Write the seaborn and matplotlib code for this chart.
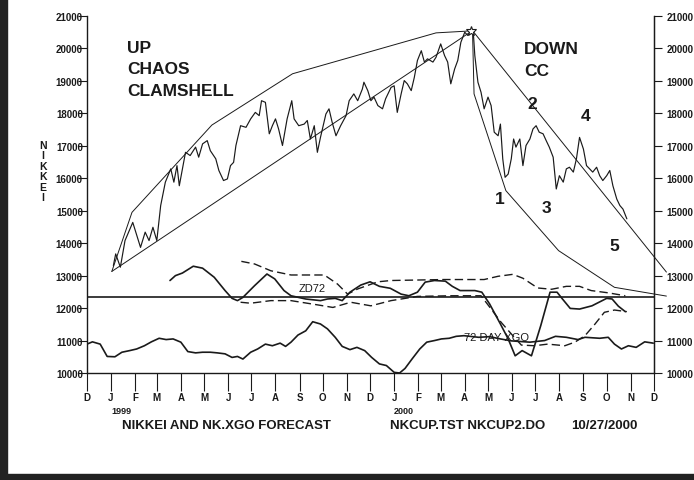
import matplotlib
matplotlib.use("Agg")
import matplotlib.pyplot as plt
import matplotlib.patches as mpatches
import pandas as pd
import seaborn as sns

sns.set_style("ticks")
plt.rcParams["font.family"] = ["Liberation Sans", "DejaVu Sans"]

INK = "#1a1a1a"
BASE = pd.Timestamp("1998-12-01")   # all day offsets below count from here

# Nikkei close (day offset, value)
price_days = [34, 37, 43, 49, 59, 65, 69, 75, 80, 85, 90, 95, 101, 108, 112, 116, 119, 127, 133, 140,
              144, 149, 155, 159, 166, 170, 176, 181, 185, 189, 192, 198, 205, 211, 217, 222, 225, 230, 235, 239,
              243, 247, 252, 258, 264, 267, 273, 280, 284, 288, 293, 297, 301, 308, 312, 316, 321, 327, 334, 338,
              344, 349, 355, 357, 362, 366, 370, 375, 381, 385, 392, 396, 400, 405, 409, 413, 418, 422, 426, 431,
              435, 439, 446, 450, 456, 461, 465, 469, 474, 478, 482, 487, 491, 495, 498, 500, 504, 508, 512, 517,
              521, 525, 530, 533, 536, 539, 543, 547, 550, 553, 558, 562, 566, 571, 575, 579, 583, 588, 592, 596,
              601, 605, 609, 614, 618, 622, 627, 631, 635, 640, 644, 648, 652, 657, 661, 665, 670, 674, 678, 683,
              687, 691, 696]
price_vals = [13310, 13670, 13260, 14080, 14640, 14180, 13870, 14340, 14080, 14490,
              14080, 15160, 15880, 16290, 15880, 16390, 15770, 16800, 16700, 16960,
              16650, 17060, 17160, 16850, 16600, 16240, 15930, 15980, 16390, 16490,
              17010, 17620, 17570, 17830, 18030, 17930, 18390, 18340, 17370, 17620,
              17830, 17520, 17010, 17830, 18390, 17830, 17620, 17670, 17780, 17210,
              17620, 16800, 17260, 17980, 18140, 17730, 17310, 17620, 17930, 18390,
              18600, 18390, 18750, 18960, 18700, 18390, 18500, 18240, 18140, 18450,
              18800, 18850, 18030, 18600, 19010, 18910, 18700, 19110, 19630, 19930,
              19580, 19680, 19580, 19730, 20140, 19780, 19580, 18910, 19370, 19630,
              20190, 20500, 20400, 20550, 20500, 19780, 18960, 18650, 18140, 18500,
              18240, 17420, 17310, 17670, 16600, 16030, 16130, 16600, 17210, 16960,
              17210, 16390, 17010, 17210, 17520, 17620, 17420, 17370, 17160, 16960,
              16650, 15670, 16080, 15880, 16290, 16340, 16190, 16600, 17260, 16900,
              16390, 16290, 16190, 16340, 16080, 15930, 16080, 16240, 15770, 15360,
              15160, 15050, 14750]

# clamshell envelopes
up_top_days = [32, 58, 161, 265, 450, 487, 497]
up_top_vals = [13130, 14950, 17640, 19220, 20480, 20530, 20550]
up_bot_days = [32, 497]
up_bot_vals = [13130, 20550]
down_top_days = [497, 747]
down_top_vals = [20550, 13110]
down_bot_days = [497, 499, 540, 608, 680, 747]
down_bot_vals = [20550, 18600, 15620, 13770, 12640, 12370]

# ZD72 oscillator and its bands
zd_days = [107, 114, 123, 137, 149, 164, 178, 187, 194, 201, 216, 232, 242, 254, 263, 282, 301, 310, 320, 329,
           339, 353, 365, 377, 391, 405, 415, 426, 436, 448, 462, 471, 481, 500, 509, 519, 533, 543, 552, 561,
           573, 585, 597, 606, 613, 623, 635, 651, 670, 677, 685, 694]
zd_vals = [12850, 13000, 13080, 13290, 13230, 12950, 12540, 12300, 12230, 12330,
           12690, 13050, 12900, 12540, 12380, 12280, 12230, 12280, 12300, 12230,
           12490, 12710, 12810, 12670, 12610, 12430, 12380, 12490, 12800, 12850,
           12830, 12670, 12540, 12540, 12490, 12130, 11510, 11050, 10530, 10690,
           10530, 11460, 12490, 12490, 12280, 11990, 11970, 12070, 12300, 12280,
           12060, 11890]
band_hi_days = [199, 216, 237, 263, 306, 323, 336, 349, 375, 392, 461, 512, 530, 549, 562, 581, 599, 618,
                635, 650, 672, 694]
band_hi_vals = [13440, 13360, 13150, 13020, 13020, 12740, 12430, 12590, 12810, 12850, 12880, 12880, 12980,
                13040, 12920, 12620, 12580, 12670, 12670, 12540, 12470, 12380]
band_lo_days = [198, 211, 237, 263, 297, 317, 340, 366, 392, 426, 469, 508, 516, 534, 549, 560, 577, 594,
                616, 629, 642, 655, 667, 680, 696]
band_lo_vals = [12180, 12150, 12230, 12230, 12100, 12020, 12180, 12070, 12230, 12360, 12380, 12380, 12130,
                11560, 11150, 10860, 10840, 10890, 10840, 10950, 11150, 11510, 11870, 11940, 11890]
zero_level = 12340

# 72 day XGO
xgo_days = [0, 7, 17, 26, 36, 45, 55, 64, 74, 83, 93, 102, 111, 121, 130, 140, 149, 159, 168, 178,
            187, 194, 201, 211, 220, 230, 239, 249, 256, 263, 272, 282, 291, 301, 310, 320, 329, 339, 348, 358,
            367, 377, 386, 396, 403, 410, 419, 429, 438, 448, 457, 467, 476, 486, 505, 519, 533, 547, 571, 590,
            604, 618, 633, 642, 661, 672, 680, 689, 698, 708, 719, 730]
xgo_vals = [10890, 10960, 10890, 10510, 10500, 10640, 10690, 10740, 10840, 10960,
            11070, 11030, 11050, 10950, 10660, 10620, 10640, 10640, 10620, 10590,
            10480, 10510, 10430, 10640, 10740, 10890, 10840, 10920, 10820, 10950,
            11170, 11300, 11580, 11510, 11360, 11100, 10820, 10720, 10790, 10690,
            10480, 10280, 10230, 10020, 10000, 10140, 10430, 10740, 10950, 11000,
            11050, 11070, 11130, 11150, 11100, 11120, 11050, 10990, 10950, 11000,
            11130, 11100, 11030, 11100, 11070, 11100, 10890, 10740, 10840, 10790,
            10960, 10920]

month_labels = ["D", "J", "F", "M", "A", "M", "J", "J", "A", "S", "O", "N",
                "D", "J", "F", "M", "A", "M", "J", "J", "A", "S", "O", "N", "D"]
year_labels = ["1999", "2000"]
y_ticks = list(range(10000, 21001, 1000))


def to_dates(days):
    return BASE + pd.to_timedelta(days, unit="D")


W, H = 694, 481


def px(x, y):
    return x / W, 1 - y / H


fig = plt.figure(figsize=(W / 100, H / 100), dpi=100)
ax = fig.add_axes([87 / W, 1 - 374 / H, 567 / W, 357 / H])


def draw(days, vals, lw, ls="-", clip=True):
    sns.lineplot(x=to_dates(days), y=vals, ax=ax, color=INK, linewidth=lw,
                 linestyle=ls, errorbar=None, sort=False)
    ax.lines[-1].set_clip_on(clip)


draw(up_top_days, up_top_vals, 0.7)
draw(up_bot_days, up_bot_vals, 0.7)
draw(down_top_days, down_top_vals, 0.7, clip=False)
draw(down_bot_days, down_bot_vals, 0.7, clip=False)
draw(price_days, price_vals, 0.85)
draw([0, 731], [zero_level, zero_level], 1.2)
draw(zd_days, zd_vals, 1.2)
draw(band_hi_days, band_hi_vals, 1.0, ls=(0, (6, 3)))
draw(band_lo_days, band_lo_vals, 1.0, ls=(0, (6, 3)))
draw(xgo_days, xgo_vals, 1.2)

peak = price_vals.index(max(price_vals))
ax.plot(to_dates([price_days[peak]]), [max(price_vals)], marker="*", ms=7,
        mfc="white", mec=INK, mew=0.8, clip_on=False)

ax.set_xlim(BASE, pd.Timestamp("2000-12-01"))
ax.set_ylim(10000, 21000)
ax.set_xlabel("")
ax.set_ylabel("")
ax.spines["top"].set_visible(False)
for s in ["left", "right", "bottom"]:
    ax.spines[s].set_linewidth(1.0)
    ax.spines[s].set_color(INK)

tick_dates = pd.date_range("1998-12-01", "2000-12-01", freq="MS")
ax.set_xticks(tick_dates)
ax.set_xticklabels(month_labels)
ax.tick_params(axis="x", length=13, width=0.8, pad=1, labelsize=7, colors=INK)
ax.set_yticks(y_ticks)
ax.set_yticklabels([str(v) for v in y_ticks])
ax.tick_params(axis="y", length=6.5, width=0.8, pad=-3.5, labelsize=7, colors=INK)
plt.setp(ax.get_xticklabels() + ax.get_yticklabels(), fontweight="bold")

right = ax.secondary_yaxis("right")
right.set_yticks(y_ticks)
right.set_yticklabels([str(v) for v in y_ticks])
right.tick_params(length=6, width=0.8, pad=3, labelsize=7, colors=INK)
right.spines["right"].set_color(INK)
plt.setp(right.get_yticklabels(), fontweight="bold")

for yr, d in zip(year_labels, ["1999-01-01", "2000-01-01"]):
    ax.annotate(yr, xy=(pd.Timestamp(d), 0), xycoords=("data", "axes fraction"),
                xytext=(0, -37), textcoords="offset pixels", ha="left", va="center",
                fontsize=6.5, fontweight="bold", color=INK)

# vertical NIKKEI label
for i, ch in enumerate("NIKKEI"):
    fig.text(*px(43, 146 + i * 10.4), ch, ha="center", va="center",
             fontsize=7.5, fontweight="bold", color=INK)

big = dict(fontsize=12.5, fontweight="bold", color=INK, va="center")
fig.text(*px(127, 49), "UP", ha="left", **big)
fig.text(*px(127, 70), "CHAOS", ha="left", **big)
fig.text(*px(127, 91), "CLAMSHELL", ha="left", **big)
fig.text(*px(524, 50), "DOWN", ha="left", **big)
fig.text(*px(524, 71), "CC", ha="left", **big)
for lab, (x, y) in zip("12345", [(500, 200), (532, 105), (546, 209), (586, 117), (614, 247)]):
    fig.text(*px(x, y), lab, ha="center", **big)

fig.text(*px(312, 289), "ZD72", ha="center", va="center", fontsize=8, color=INK)
fig.text(*px(496, 338), "72 DAY XGO", ha="center", va="center", fontsize=8, color=INK)

foot = dict(fontsize=9.5, fontweight="bold", color=INK, va="center", ha="left")
fig.text(*px(122, 426), "NIKKEI AND NK.XGO FORECAST", **foot)
fig.text(*px(390, 426), "NKCUP.TST NKCUP2.DO", **foot)
fig.text(*px(571, 426), "10/27/2000", **foot)

# page frame
fig.patches.append(mpatches.Rectangle((0, 0), 7 / W, 1, transform=fig.transFigure,
                                      color="#222222", zorder=10))
fig.patches.append(mpatches.Rectangle((0, 0), 1, 6 / H, transform=fig.transFigure,
                                      color="#222222", zorder=10))

fig.savefig("out.png", dpi=100)
